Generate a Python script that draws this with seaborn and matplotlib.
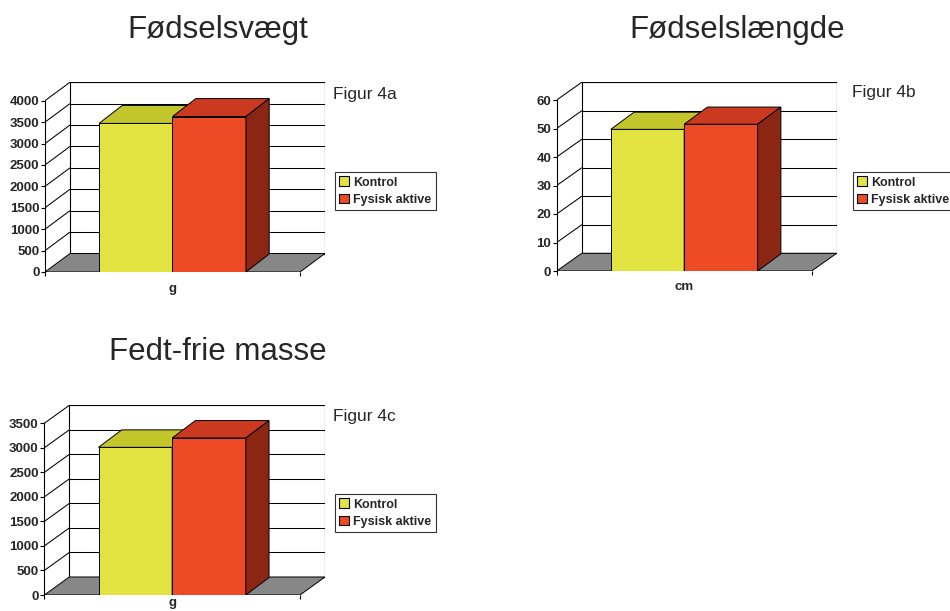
import matplotlib
matplotlib.use("Agg")
import matplotlib.pyplot as plt
from matplotlib.patches import Polygon, Rectangle, Patch
import pandas as pd
import seaborn as sns

# data
groups = ["Kontrol", "Fysisk aktive"]
birth_weight = [3470, 3630]      # g
birth_length = [49.7, 51.5]      # cm
fat_free_mass = [3010, 3200]     # g

titles = ["Fødselsvægt", "Fødselslængde", "Fedt-frie masse"]
fig_labels = ["Figur 4a", "Figur 4b", "Figur 4c"]
units = ["g", "cm", "g"]
y_max = [4000, 60, 3500]
y_step = [500, 10, 500]

front_colors = ["#E2E341", "#EE4A26"]
top_colors = ["#C2C62A", "#CB3A20"]
side_colors = ["#9A9C1E", "#8C2614"]
FLOOR = "#878787"

sns.set_style("white")
plt.rcParams["font.family"] = ["Liberation Sans", "DejaVu Sans"]

W, H = 950, 611
fig = plt.figure(figsize=(W / 100, H / 100), dpi=100)

# panel layout in pixels: front-left x, y of 0, y of max, front-right x, depth dx, depth dy
panels = [
    dict(x0=45, y0=272, ytop=100.7, x1=300, dx=25, dy=18.5, xpad=8,
         title=(218, 30), flab=(333, 95), leg=(335, 172)),
    dict(x0=556.7, y0=271, ytop=100, x1=811.7, dx=25, dy=17.7, xpad=7,
         title=(737, 30), flab=(852, 93), leg=(853, 172)),
    dict(x0=44.3, y0=595, ytop=423.3, x1=300, dx=25, dy=18, xpad=1.5,
         title=(218, 352), flab=(333, 416), leg=(335, 494)),
]
values = [birth_weight, birth_length, fat_free_mass]


def draw_panel(p, vals, unit, ymax, step):
    ddx = p["dx"] / (p["x1"] - p["x0"])
    ddy = p["dy"] / (p["y0"] - p["ytop"])
    dyv = ddy * ymax
    left = p["x0"] / W
    width = (p["x1"] + p["dx"] - p["x0"]) / W
    bottom = (H - p["y0"]) / H
    height = (p["y0"] - p["ytop"] + p["dy"]) / H
    ax = fig.add_axes([left, bottom, width, height])
    ax.set_facecolor("none")

    df = pd.DataFrame({"unit": [unit] * len(groups), "group": groups, "value": vals})
    sns.barplot(data=df, x="unit", y="value", hue="group", palette=front_colors,
                width=0.576, saturation=1, edgecolor="black", linewidth=0.7,
                legend=False, ax=ax)
    bars = list(ax.patches)

    ticks = list(range(0, ymax + 1, step))
    # back wall + grid
    ax.add_patch(Rectangle((-0.5 + ddx, dyv), 1, ymax, facecolor="white",
                           edgecolor="black", lw=0.8, zorder=0.5))
    for v in ticks[1:]:
        ax.plot([-0.5 + ddx, 0.5 + ddx], [v + dyv, v + dyv], color="black", lw=0.75, zorder=0.8)
        ax.plot([-0.5, -0.5 + ddx], [v, v + dyv], color="black", lw=0.75, zorder=0.8)
    # floor
    ax.add_patch(Polygon([(-0.5, 0), (0.5, 0), (0.5 + ddx, dyv), (-0.5 + ddx, dyv)],
                         closed=True, facecolor=FLOOR, edgecolor="black", lw=0.7, zorder=1))

    bdx, bdy = 0.93 * ddx, 0.97 * dyv
    for i, b in enumerate(bars):
        bx, bw, bh = b.get_x(), b.get_width(), b.get_height()
        z = 3 + 2 * i
        b.set_zorder(z)
        ax.add_patch(Polygon([(bx, bh), (bx + bw, bh), (bx + bw + bdx, bh + bdy), (bx + bdx, bh + bdy)],
                             closed=True, facecolor=top_colors[i], edgecolor="black", lw=0.7, zorder=z))
        ax.add_patch(Polygon([(bx + bw, 0), (bx + bw + bdx, bdy), (bx + bw + bdx, bh + bdy), (bx + bw, bh)],
                             closed=True, facecolor=side_colors[i], edgecolor="black", lw=0.7, zorder=z))

    ax.set_xlim(-0.5, 0.5 + ddx)
    ax.set_ylim(0, ymax + dyv)
    for s in ["top", "right", "bottom"]:
        ax.spines[s].set_visible(False)
    ax.spines["left"].set_bounds(0, ymax)
    ax.spines["left"].set_linewidth(0.8)
    ax.spines["left"].set_color("black")
    ax.spines["left"].set_zorder(0.9)

    ax.set_yticks(ticks)
    ax.set_yticklabels([str(t) for t in ticks], fontsize=9.5, fontweight="bold")
    ax.tick_params(axis="y", length=3, width=0.8, pad=1, left=True, color="black")
    ax.set_xticks([0])
    ax.set_xticklabels([unit], fontsize=9.5, fontweight="bold")
    ax.set_xticks([-0.5, 0.5], minor=True)
    ax.tick_params(axis="x", which="major", length=0, pad=p["xpad"])
    ax.tick_params(axis="x", which="minor", length=3, width=0.8, bottom=True, color="black")
    ax.set_xlabel("")
    ax.set_ylabel("")
    ax.grid(False)
    return ax


handles = [Patch(facecolor=c, edgecolor="black", lw=0.8) for c in front_colors]

for p, vals, t, fl, u, ym, st in zip(panels, values, titles, fig_labels, units, y_max, y_step):
    draw_panel(p, vals, u, ym, st)
    fig.text(p["title"][0] / W, 1 - p["title"][1] / H, t, fontsize=22.5,
             ha="center", va="center")
    fig.text(p["flab"][0] / W, 1 - p["flab"][1] / H, fl, fontsize=12.5,
             ha="left", va="center")
    leg = fig.legend(handles, groups, loc="upper left",
                     bbox_to_anchor=(p["leg"][0] / W, 1 - p["leg"][1] / H),
                     bbox_transform=fig.transFigure, borderaxespad=0,
                     frameon=True, fancybox=False, edgecolor="black",
                     prop={"weight": "bold", "size": 9.0},
                     handlelength=0.8, handleheight=0.8, handletextpad=0.3,
                     borderpad=0.35, labelspacing=0.4)
    leg.get_frame().set_linewidth(0.8)

fig.savefig("out.png", dpi=100)
